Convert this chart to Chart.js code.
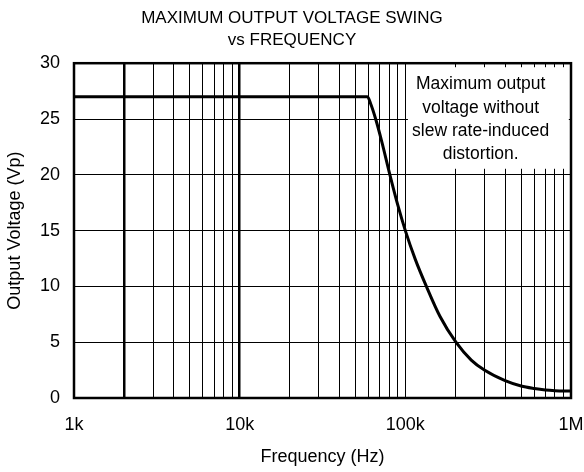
<!DOCTYPE html>
<html>
<head>
<meta charset="utf-8">
<script src="https://cdn.jsdelivr.net/npm/chart.js@4.4.0/dist/chart.umd.min.js"></script>
<style>
  html, body { margin: 0; padding: 0; background: #fff; }
  #wrap { width: 584px; height: 472px; position: relative; }
</style>
</head>
<body>
<div id="wrap"><canvas id="c"></canvas></div>
<script>
// frequency (Hz) and max output swing (Vp)
const freqs = [1000, 10000, 59000, 62000, 66200, 72000, 80700, 90000, 100000,
               115000, 134000, 162000, 202000, 250000, 300000, 400000, 500000, 600000, 700000, 800000, 1000000];
const volts = [27, 27, 27, 26.3, 25, 23, 20, 17.3, 15,
               12.4, 10, 7.3, 5, 3.4, 2.5, 1.55, 1.07, 0.85, 0.72, 0.66, 0.62];

const decadeLabels = { 1000: '1k', 10000: '10k', 100000: '100k', 1000000: '1M' };
const gridFreqs = [];
[1000, 10000, 100000].forEach(d => { for (let m = 1; m < 10; m++) gridFreqs.push(d * m); });
gridFreqs.push(1000000);
const heavyLines = [2000, 10000];

const noteLines = ['Maximum output', 'voltage without', 'slew rate-induced', 'distortion.'];
const FONT = "'Liberation Sans', Arial, sans-serif";

const notePlugin = {
  id: 'note',
  afterDatasetsDraw(chart) {
    const { ctx, scales: { x, y } } = chart;
    const l = x.getPixelForValue(103700), r = x.getPixelForValue(970000);
    const t = y.getPixelForValue(29.64), b = y.getPixelForValue(20.54);
    ctx.save();
    ctx.fillStyle = '#fff';
    ctx.fillRect(l, t, r - l, b - t);
    ctx.fillStyle = '#000';
    ctx.font = '17.5px ' + FONT;
    ctx.textAlign = 'center';
    ctx.textBaseline = 'alphabetic';
    const cx = x.getPixelForValue(285000);
    noteLines.forEach((s, i) => ctx.fillText(s, cx, t + 22 + i * 23.3));
    ctx.restore();
  }
};

const framePlugin = {
  id: 'frame',
  afterDraw(chart) {
    const { ctx, chartArea: a } = chart;
    ctx.save();
    ctx.strokeStyle = '#000';
    ctx.lineWidth = 2.5;
    ctx.strokeRect(a.left, a.top, a.right - a.left, a.bottom - a.top);
    ctx.restore();
  }
};

new Chart(document.getElementById('c'), {
  type: 'line',
  data: {
    datasets: [{
      data: freqs.map((f, i) => ({ x: f, y: volts[i] })),
      borderColor: '#000',
      borderWidth: 3,
      pointRadius: 0,
      cubicInterpolationMode: 'monotone',
      fill: false
    }]
  },
  options: {
    responsive: true,
    maintainAspectRatio: false,
    animation: false,
    layout: { padding: 0 },
    plugins: {
      legend: { display: false },
      tooltip: { enabled: false },
      title: {
        display: true,
        text: ['MAXIMUM OUTPUT VOLTAGE SWING', 'vs FREQUENCY'],
        color: '#000',
        font: { size: 17, family: FONT, weight: 'normal', lineHeight: 1.3 },
        padding: { top: 7, bottom: 12 }
      }
    },
    scales: {
      x: {
        type: 'logarithmic',
        min: 1000,
        max: 1000000,
        afterBuildTicks(scale) { scale.ticks = gridFreqs.map(v => ({ value: v })); },
        afterFit(scale) { scale.height = 74; scale.paddingRight = 13; },
        ticks: {
          autoSkip: false,
          maxRotation: 0,
          color: '#000',
          font: { size: 18, family: FONT },
          padding: 16,
          callback: v => decadeLabels[v] || ''
        },
        grid: {
          color: '#000',
          lineWidth: c => heavyLines.includes(c.tick && c.tick.value) ? 2.5 : 1,
          drawTicks: false
        },
        border: { display: false },
        title: {
          display: true,
          text: 'Frequency (Hz)',
          color: '#000',
          font: { size: 18, family: FONT },
          padding: { top: 0, bottom: 4 }
        }
      },
      y: {
        min: 0,
        max: 30,
        afterFit(scale) { scale.width = 74; },
        ticks: {
          stepSize: 5,
          color: '#000',
          font: { size: 18, family: FONT },
          padding: 14
        },
        grid: { color: '#000', lineWidth: 1, drawTicks: false },
        border: { display: false },
        title: {
          display: true,
          text: 'Output Voltage (Vp)',
          color: '#000',
          font: { size: 18, family: FONT },
          padding: { top: 4, bottom: 0 }
        }
      }
    }
  },
  plugins: [notePlugin, framePlugin]
});
</script>
</body>
</html>
